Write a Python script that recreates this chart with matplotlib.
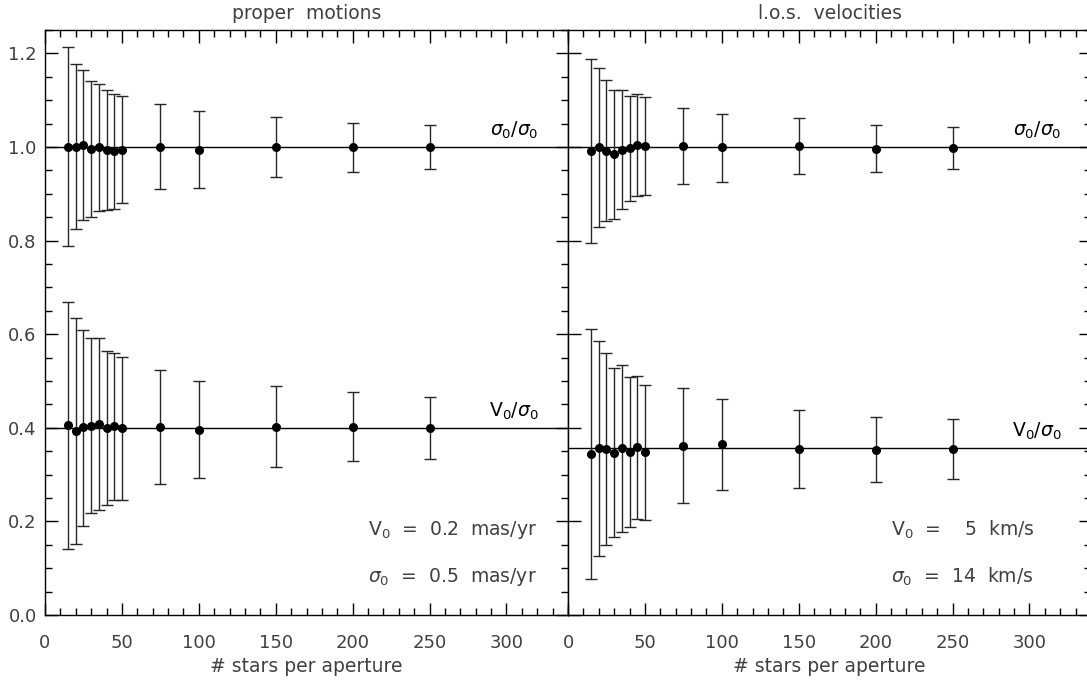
import numpy as np
import matplotlib
matplotlib.use('Agg')
import matplotlib.pyplot as plt
from matplotlib.ticker import MultipleLocator, FormatStrFormatter

plt.rcParams['font.family'] = ['DejaVu Sans']
plt.rcParams['mathtext.fontset'] = 'dejavusans'

# number of stars per aperture
nstars = [15, 20, 25, 30, 35, 40, 45, 50, 75, 100, 150, 200, 250]

# proper motions: sigma/sigma0
pm_sig = [1.001, 1.001, 1.004, 0.996, 0.999, 0.994, 0.991, 0.994, 1.001, 0.994, 1.001, 0.999, 1.000]
pm_sig_hi = [1.214, 1.177, 1.165, 1.142, 1.135, 1.122, 1.113, 1.109, 1.091, 1.076, 1.065, 1.051, 1.048]
pm_sig_lo = [0.789, 0.825, 0.844, 0.851, 0.863, 0.865, 0.868, 0.880, 0.911, 0.913, 0.936, 0.947, 0.952]
# proper motions: V/sigma0
pm_v = [0.406, 0.394, 0.401, 0.404, 0.408, 0.400, 0.404, 0.399, 0.401, 0.395, 0.402, 0.402, 0.400]
pm_v_hi = [0.669, 0.634, 0.609, 0.591, 0.592, 0.565, 0.560, 0.552, 0.523, 0.499, 0.489, 0.477, 0.466]
pm_v_lo = [0.141, 0.151, 0.191, 0.217, 0.224, 0.235, 0.245, 0.245, 0.280, 0.292, 0.316, 0.328, 0.333]

# l.o.s. velocities: sigma/sigma0
los_sig = [0.991, 1.000, 0.992, 0.984, 0.994, 0.997, 1.004, 1.002, 1.002, 0.999, 1.002, 0.996, 0.998]
los_sig_hi = [1.189, 1.169, 1.143, 1.122, 1.122, 1.109, 1.113, 1.106, 1.083, 1.071, 1.061, 1.046, 1.043]
los_sig_lo = [0.794, 0.828, 0.842, 0.846, 0.867, 0.885, 0.896, 0.897, 0.921, 0.926, 0.943, 0.947, 0.952]
# l.o.s. velocities: V/sigma0
los_v = [0.345, 0.356, 0.355, 0.347, 0.356, 0.348, 0.360, 0.348, 0.362, 0.365, 0.355, 0.353, 0.355]
los_v_hi = [0.612, 0.585, 0.560, 0.528, 0.535, 0.508, 0.511, 0.492, 0.484, 0.462, 0.439, 0.423, 0.419]
los_v_lo = [0.076, 0.126, 0.149, 0.166, 0.178, 0.187, 0.206, 0.204, 0.239, 0.268, 0.272, 0.284, 0.291]

# true values
pm_v0, pm_s0 = 0.2, 0.5     # mas/yr
los_v0, los_s0 = 5.0, 14.0  # km/s

txtcol = '0.25'
fs = 13.5

def panel(ax, title, sig, sig_lo, sig_hi, v, v_lo, v_hi, vtrue, labels):
    ax.axhline(1.0, color='k', lw=1.0)
    ax.axhline(vtrue, color='k', lw=1.0)
    for y, lo, hi in [(sig, sig_lo, sig_hi), (v, v_lo, v_hi)]:
        y = np.array(y)
        err = [y - np.array(lo), np.array(hi) - y]
        ax.errorbar(nstars, y, yerr=err, fmt='o', color='k', ms=5.5,
                    ecolor='0.15', elinewidth=1.0, capsize=4.5, capthick=1.0)
    ax.text(321, 1.012, r'$\sigma_0/\sigma_0$', ha='right', va='bottom',
            fontsize=fs, color='k')
    ax.text(321, vtrue + 0.012, r'$\mathrm{V}_0/\sigma_0$', ha='right', va='bottom',
            fontsize=fs, color='k')
    ax.text(210, 0.182, labels[0], ha='left', va='center', fontsize=fs, color=txtcol)
    ax.text(210, 0.081, labels[1], ha='left', va='center', fontsize=fs, color=txtcol)
    ax.set_xlim(0, 340)
    ax.set_ylim(0, 1.25)
    ax.xaxis.set_major_locator(MultipleLocator(50))
    ax.xaxis.set_minor_locator(MultipleLocator(10))
    ax.yaxis.set_major_locator(MultipleLocator(0.2))
    ax.yaxis.set_minor_locator(MultipleLocator(0.05))
    ax.tick_params(which='both', direction='in', top=True, right=True,
                   labelsize=13, labelcolor=txtcol, width=1.0)
    ax.tick_params(which='major', length=9)
    ax.tick_params(which='minor', length=5)
    ax.tick_params(axis='x', pad=14)
    ax.tick_params(axis='y', pad=6)
    ax.set_title(title, fontsize=fs, color=txtcol, pad=8)
    ax.set_xlabel('# stars per aperture', fontsize=fs, color=txtcol, labelpad=3)
    for s in ax.spines.values():
        s.set_linewidth(1.0)

fig = plt.figure(figsize=(10.87, 6.81), dpi=100)
ax1 = fig.add_axes([45 / 1087, 66 / 681, 523 / 1087, 585 / 681])
ax2 = fig.add_axes([568 / 1087, 66 / 681, 523 / 1087, 585 / 681])

panel(ax1, 'proper  motions', pm_sig, pm_sig_lo, pm_sig_hi, pm_v, pm_v_lo, pm_v_hi,
      pm_v0 / pm_s0,
      [r'$\mathrm{V}_0$  =  0.2  mas/yr', r'$\sigma_0$  =  0.5  mas/yr'])
ax1.yaxis.set_major_formatter(FormatStrFormatter('%.1f'))

panel(ax2, 'l.o.s.  velocities', los_sig, los_sig_lo, los_sig_hi, los_v, los_v_lo, los_v_hi,
      los_v0 / los_s0,
      [r'$\mathrm{V}_0$  =    5  km/s', r'$\sigma_0$  =  14  km/s'])
ax2.tick_params(axis='y', labelleft=False)
ax2.tick_params(axis='y', which='minor', left=False)

fig.savefig('out.png', dpi=100)
